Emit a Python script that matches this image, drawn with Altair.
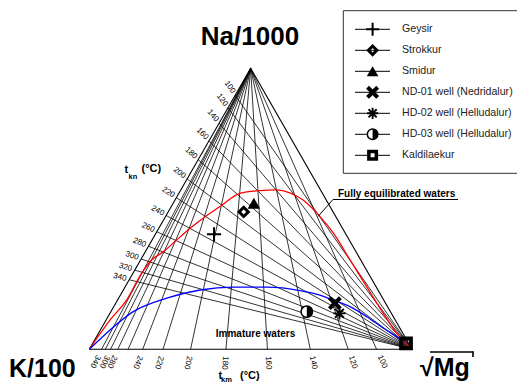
import math
import altair as alt
import pandas as pd

# ---------------- data ----------------
names = ["Geysir", "Strokkur", "Smidur", "ND-01 well (Nedridalur)",
         "HD-02 well (Helludalur)", "HD-03 well (Helludalur)", "Kaldilaekur"]
na_pct = [40.9, 48.9, 52.0, 16.4, 12.8, 13.4, 2.1]   # Na/1000 share, %
k_pct = [40.9, 27.7, 23.0, 15.7, 16.1, 25.9, 0.8]    # K/100 share, %
mg_pct = [18.2, 23.4, 25.0, 67.9, 71.1, 60.7, 97.1]  # sqrt(Mg) share, %

temps = [100, 120, 140, 160, 180, 200, 220, 240, 260, 280, 300, 320, 340]
tkn_labels = [100, 120, 140, 160, 180, 200, 220, 240, 260, 280, 300, 320, 340]
tkm_labels = [100, 120, 140, 160, 180, 200, 220, 240, 280, 300, 340]

# full equilibrium curve (Na %, Mg %)
red_na = [0, 10.4, 17.5, 27.1, 31.8, 34.7, 38.9, 43.1, 47.2, 50.8, 55.5,
          56.5, 56.7, 55.7, 53.1, 47.2, 41.3, 31.8, 22.3, 12.8, 5.7, 0]
red_mg = [0, 1.2, 2.8, 2.7, 3.4, 5.6, 7.6, 9.7, 12.3, 15.1, 18.9,
          24.6, 29.7, 34.3, 39.7, 47.9, 55.0, 64.9, 74.8, 84.7, 92.4, 100]
# immature waters curve (Na %, Mg %)
blue_na = [0, 6.9, 13.4, 18.2, 21.1, 22.1, 22.1, 20.9, 19.3, 17.5, 15.2, 11.6, 7.5, 4.5, 2.1]
blue_mg = [0, 3.0, 6.9, 14.9, 23.8, 33.6, 43.9, 54.9, 61.8, 66.8, 73.2, 80.2, 87.4, 93.0, 96.6]

# ---------------- layout ----------------
FONT = "Liberation Sans"
W, H = 509, 375
M = 8
KX, BASEY = 89.3, 349.3
SIDE_PX = 322.7
S3 = math.sqrt(3) / 2
VPX = 281.0 / S3

x_dom = [(M - KX) / SIDE_PX, (M + W - KX) / SIDE_PX]
y_dom = [(BASEY - (M + H)) / VPX, (BASEY - M) / VPX]
xs = alt.Scale(domain=x_dom, nice=False, zero=False)
ys = alt.Scale(domain=y_dom, nice=False, zero=False)


def tern(n, k, m):
    s = n + k + m
    n, k, m = n / s, k / s, m / s
    return m + 0.5 * n, S3 * n


# samples
rows = []
for nm, a, b, c in zip(names, na_pct, k_pct, mg_pct):
    u, v = tern(a, b, c)
    rows.append({"name": nm, "u": u, "v": v})
samples = pd.DataFrame(rows)

# geothermometer grid
tkn_rows, tkm_rows = [], []
for T in temps:
    r = 10 ** (1390.0 / (T + 273.15) - 1.75) / 10.0      # (Na/1000)/(K/100)
    n = r / (1 + r)
    u, v = 0.5 * n, S3 * n
    ang = math.degrees(math.atan2(v * VPX, (1 - u) * SIDE_PX))
    tkn_rows.append({"T": T, "u": u, "v": v, "u2": 1.0, "v2": 0.0, "ang": ang,
                     "lab": str(T) if T in tkn_labels else ""})
    q = math.sqrt(10 ** (14.0 - 4410.0 / (T + 273.15))) / 100.0  # (K/100)/sqrt(Mg)
    k = q / (1 + q)
    uq = 1 - k
    ang2 = math.degrees(math.atan2(S3 * VPX, (uq - 0.5) * SIDE_PX))
    tkm_rows.append({"T": T, "u": 0.5, "v": S3, "u2": uq, "v2": 0.0, "ang": ang2,
                     "lab": str(T) if T in tkm_labels else ""})
tkn = pd.DataFrame(tkn_rows)
tkm = pd.DataFrame(tkm_rows)

red = pd.DataFrame([{"i": i, "u": tern(a, 100 - a - c, c)[0], "v": tern(a, 100 - a - c, c)[1]}
                    for i, (a, c) in enumerate(zip(red_na, red_mg))])
blue = pd.DataFrame([{"i": i, "u": tern(a, 100 - a - c, c)[0], "v": tern(a, 100 - a - c, c)[1]}
                     for i, (a, c) in enumerate(zip(blue_na, blue_mg))])
tri = pd.DataFrame({"i": [0, 1, 2, 3], "u": [0, 1, 0.5, 0], "v": [0, 0, S3, 0]})

X = alt.X("u:Q", scale=xs, axis=None)
Y = alt.Y("v:Q", scale=ys, axis=None)
X2 = alt.X2("u2:Q")
Y2 = alt.Y2("v2:Q")

layers = []

# grid lines
layers.append(alt.Chart(tkn).mark_rule(color="black", strokeWidth=0.8).encode(x=X, y=Y, x2=X2, y2=Y2))
layers.append(alt.Chart(tkm).mark_rule(color="black", strokeWidth=0.8).encode(x=X, y=Y, x2=X2, y2=Y2))
# triangle
layers.append(alt.Chart(tri).mark_line(color="black", strokeWidth=1.1).encode(x=X, y=Y, order="i:Q"))
# curves
layers.append(alt.Chart(red).mark_line(color="#ff0000", strokeWidth=1.3, interpolate="monotone")
              .encode(x=X, y=Y, order="i:Q"))
layers.append(alt.Chart(blue).mark_line(color="#0000ff", strokeWidth=1.3, interpolate="monotone")
              .encode(x=X, y=Y, order="i:Q"))

# tick labels
layers.append(alt.Chart(tkn).mark_text(align="right", baseline="middle", dx=-3, fontSize=8,
                                       font=FONT, color="black")
              .encode(x=X, y=Y, text="lab:N", angle=alt.Angle("ang:Q", scale=None)))
layers.append(alt.Chart(tkm).mark_text(align="left", baseline="middle", dx=7, fontSize=8,
                                       font=FONT, color="black")
              .encode(x=alt.X("u2:Q", scale=xs, axis=None), y=alt.Y("v2:Q", scale=ys, axis=None),
                      text="lab:N", angle=alt.Angle("ang:Q", scale=None)))

# marker styles
PLUS = "M-1,0L1,0M0,-1L0,1"
XP = "M-1,-1L1,1M-1,1L1,-1"
AST = "M-1,0L1,0M0,-1L0,1M-0.72,-0.72L0.72,0.72M-0.72,0.72L0.72,-0.72"
HALF = "M0,-1L0.5,-0.866L0.866,-0.5L1,0L0.866,0.5L0.5,0.866L0,1Z"


def marker_layers(data, xenc, yenc, big=True):
    s = 1.0 if big else 0.85
    out = []
    styles = [
        ("Geysir", dict(shape=PLUS, size=200 * s, strokeWidth=2, filled=False)),
        ("Strokkur", dict(shape="diamond", size=85 * s, strokeWidth=3, filled=False)),
        ("Smidur", dict(shape="triangle-up", size=160 * s, filled=True)),
        ("ND-01 well (Nedridalur)", dict(shape=XP, size=120 * s, strokeWidth=4, filled=False)),
        ("HD-02 well (Helludalur)", dict(shape=AST, size=150 * s, strokeWidth=1.9, filled=False)),
        ("HD-03 well (Helludalur)", dict(shape="circle", size=130 * s, filled=True, fill="white",
                                         stroke="black", strokeWidth=1.5)),
        ("HD-03 well (Helludalur)", dict(shape=HALF, size=130 * s, filled=True, fill="black",
                                         strokeWidth=0)),
        ("Kaldilaekur", dict(shape="square", size=(95 if big else 56), strokeWidth=(4 if big else 3.5),
                             filled=(False if big else True),
                             **({} if big else {"fill": "white", "stroke": "black"}))),
    ]
    for nm, kw in styles:
        kw = dict(kw)
        if "fill" not in kw and "stroke" not in kw:
            kw["color"] = "black"
        out.append(alt.Chart(data).mark_point(opacity=1, **kw)
                   .transform_filter(alt.datum.name == nm)
                   .encode(x=xenc, y=yenc))
    return out


layers += marker_layers(samples, X, Y, big=True)


def one():
    return alt.Chart(alt.Data(values=[{}]))


def txt(s, x, y, size, bold=False, align="left", baseline="alphabetic", color="black"):
    return one().mark_text(text=s, align=align, baseline=baseline, fontSize=size,
                           fontWeight="bold" if bold else "normal", font=FONT, color=color) \
        .encode(x=alt.value(x - M), y=alt.value(y - M))


def seg(x1, y1, x2, y2, w=1.0, color="black"):
    return one().mark_rule(color=color, strokeWidth=w).encode(
        x=alt.value(x1 - M), y=alt.value(y1 - M), x2=alt.value(x2 - M), y2=alt.value(y2 - M))


# annotations
layers += [
    txt("Na/1000", 250, 45, 26, bold=True, align="center"),
    txt("K/100", 9, 377, 25, bold=True),
    txt("\u221aMg", 420, 376, 25, bold=True),
    seg(430, 352, 473, 352, 1.6),
    seg(473, 351.2, 473, 357, 1.6),
    txt("Fully equilibrated waters", 338, 197, 10, bold=True),
    seg(333, 199.5, 458, 199.5, 1),
    seg(333, 199.5, 318, 216.5, 1),
    txt("Immature waters", 255.5, 336.5, 10, bold=True, align="center"),
    txt("t", 124.5, 172.5, 11, bold=True),
    txt("kn", 128.5, 179, 7.5, bold=True),
    txt("(\u00b0C)", 141.5, 172, 11, bold=True),
    txt("t", 218.5, 378.5, 11, bold=True),
    txt("km", 221, 381.5, 7.5, bold=True),
    txt("(\u00b0C)", 240, 378.5, 11, bold=True),
]

# legend
layers.append(one().mark_rect(fill="white", stroke="#333333", strokeWidth=1).encode(
    x=alt.value(343.3 - M), x2=alt.value(560 - M), y=alt.value(10.7 - M), y2=alt.value(173.3 - M)))
legend = pd.DataFrame({"name": names})
LY = alt.Y("name:N", scale=alt.Scale(type="point", domain=names, range=[29.3 - M, 155.3 - M], padding=0),
           axis=None)
layers.append(alt.Chart(legend).mark_rule(color="black", strokeWidth=1).encode(
    x=alt.value(355 - M), x2=alt.value(390 - M), y=LY))
layers += marker_layers(legend, alt.value(372.6 - M), LY, big=False)
layers.append(alt.Chart(legend).mark_text(align="left", baseline="middle", fontSize=10.6, font=FONT,
                                          color="#222222").encode(x=alt.value(402 - M), y=LY, text="name:N"))

chart = alt.layer(*layers).resolve_scale(x="independent", y="independent").properties(
    width=W, height=H, autosize=alt.AutoSizeParams(type="none"), padding=0
).configure_view(stroke=None)

chart.save("out.html", embed_options={"renderer": "svg", "actions": False})
